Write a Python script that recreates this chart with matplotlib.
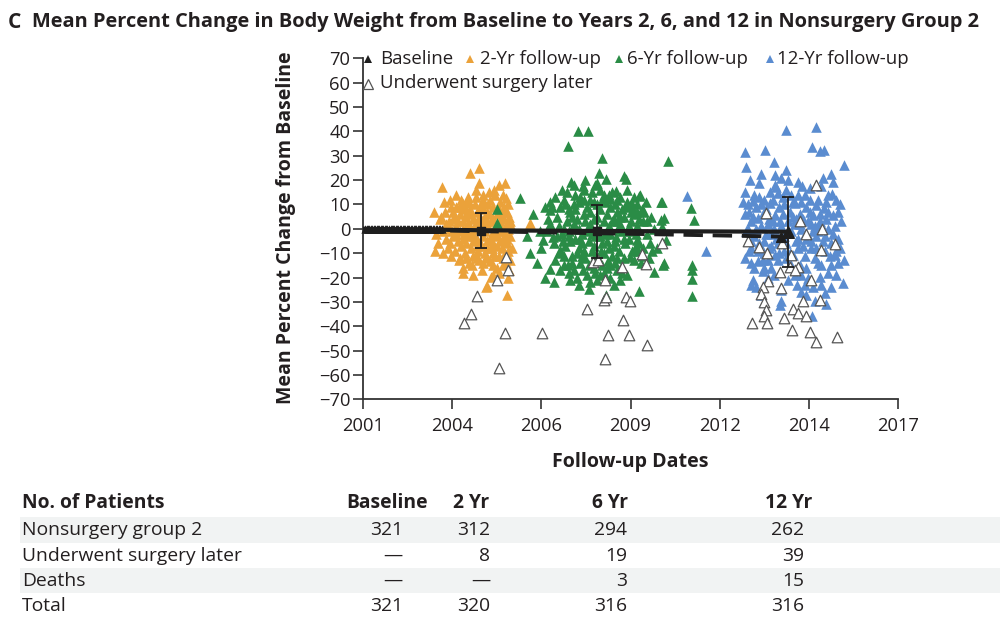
import matplotlib
matplotlib.use('Agg')
import matplotlib.pyplot as plt
import numpy as np
from matplotlib.patches import Rectangle
from matplotlib.lines import Line2D

plt.rcParams['font.family'] = ['Open Sans', 'DejaVu Sans']

# ---------------- DATA ----------------
title = "Mean Percent Change in Body Weight from Baseline to Years 2, 6, and 12 in Nonsurgery Group 2"
panel = "C"
y_label = "Mean Percent Change from Baseline"
x_label = "Follow-up Dates"
x_tick_labels = ['2001', '2004', '2006', '2009', '2012', '2014', '2017']
y_ticks = list(range(-70, 71, 10))

baseline_dates = [2001.08, 2001.12, 2001.17, 2001.2, 2001.25, 2001.29, 2001.33, 2001.37, 2001.42, 2001.46,
                  2001.49, 2001.55, 2001.58, 2001.62, 2001.66, 2001.7, 2001.74, 2001.79, 2001.84, 2001.87,
                  2001.9, 2001.94, 2001.98, 2002.02, 2002.06, 2002.11, 2002.15, 2002.19, 2002.23, 2002.27,
                  2002.31, 2002.35, 2002.39, 2002.43, 2002.47, 2002.52, 2002.56, 2002.6, 2002.64, 2002.68,
                  2002.72, 2002.76, 2002.81, 2002.85, 2002.89, 2002.93, 2002.97, 2003.01, 2003.05, 2003.1,
                  2003.14, 2003.18, 2003.22, 2003.27, 2003.31, 2003.36]
baseline_vals = [0.0] * len(baseline_dates)

yr2_pts = [(2004.47, 25), (2004.22, 23), (2003.36, 17), (2004.48, 19), (2005.08, 18), (2005.25, 19),
           (2004.38, 16), (2003.44, 11), (2003.14, 7), (2003.93, 12), (2004.08, 10.5), (2004.8, 12),
           (2005.28, 12.5), (2003.69, 7), (2004.2, 8), (2003.6, 12), (2003.8, 9), (2004.6, 14), (2004.9, 9),
           (2005.1, 11), (2005.3, 7), (2005.4, 3), (2003.3, 4), (2003.5, 2), (2003.2, -2),
           (2003.7, 4), (2003.9, 6), (2004.0, 3), (2004.1, 5), (2004.3, 4), (2004.4, 7), (2004.5, 5),
           (2004.6, 8), (2004.7, 3), (2004.8, 6), (2004.9, 4), (2005.0, 6), (2005.1, 3), (2005.2, 5), (2005.3, 2),
           (2003.6, 0), (2003.8, 1), (2003.9, -1), (2004.0, 0), (2004.15, 2), (2004.25, -1), (2004.35, 1),
           (2004.45, 0), (2004.55, 2), (2004.65, -1), (2004.75, 1), (2004.85, -2), (2004.95, 1), (2005.05, -1),
           (2005.15, 0), (2005.25, -2), (2005.35, 0),
           (2003.5, -4), (2003.7, -3), (2003.85, -5), (2004.0, -4), (2004.1, -6), (2004.2, -3), (2004.3, -5),
           (2004.4, -4), (2004.5, -6), (2004.6, -3), (2004.7, -5), (2004.8, -4), (2004.9, -6), (2005.0, -3),
           (2005.1, -5), (2005.2, -4), (2005.3, -6), (2005.4, -3),
           (2003.55, -8), (2003.75, -9), (2003.95, -7), (2004.05, -10), (2004.25, -8), (2004.45, -9),
           (2004.55, -7), (2004.65, -10), (2004.85, -8), (2004.95, -11), (2005.15, -8), (2005.25, -10), (2005.35, -9),
           (2003.4, -10), (2004.4, -12), (2004.8, -13.4), (2004.0, -16), (2004.0, -18), (2004.82, -19.6),
           (2004.7, -23.4), (2005.08, -18.2), (2004.68, -24), (2005.3, -27), (2005.2, -15), (2005.4, -13),
           (2004.6, -14), (2003.9, -12), (2004.3, -11), (2005.0, -16), (2005.35, -20), (2004.55, -17),
           (2003.65, 9), (2004.05, 8), (2004.35, 10), (2004.75, 10), (2005.05, 9), (2005.35, 10), (2004.15, 13),
           (2004.55, 11), (2004.95, 14), (2003.45, 7), (2004.25, 6), (2004.65, 5), (2005.15, 7),
           (2003.25, -6), (2003.4, -1), (2003.35, 5), (2003.15, -9), (2005.99, 1.6), (2006.0, 2.3),
           (2003.8, -2), (2004.12, -2), (2004.42, 3), (2004.72, -8), (2005.02, 2), (2005.22, 9), (2003.62, -6),
           (2004.18, -14), (2004.88, -15), (2005.18, -12), (2003.78, 14), (2004.92, 16),
           (2003.75, 5), (2003.85, 3), (2003.95, 9), (2004.02, -2), (2004.12, 7), (2004.22, 1), (2004.32, -3),
           (2004.42, -7), (2004.52, 9), (2004.62, 1), (2004.72, 7), (2004.82, 3), (2004.92, -1), (2005.02, -7),
           (2005.12, 4), (2005.22, -1), (2005.32, -4), (2005.42, 1), (2003.65, -11), (2003.88, -13),
           (2004.08, -12), (2004.28, -15), (2004.48, -13), (2004.68, -12), (2004.88, -10), (2005.08, -11),
           (2005.28, -14), (2005.38, -17), (2003.58, 3), (2003.68, -1), (2003.98, 11), (2004.18, 11),
           (2004.38, 13), (2004.58, 12), (2004.78, 15), (2005.18, 14), (2005.38, 5), (2004.9, -19),
           (2004.3, -19), (2005.45, -8)]

yr6_pts = [(2007.44, 40), (2007.73, 40), (2007.12, 34), (2008.15, 29), (2008.05, 23), (2008.28, 20.4),
           (2008.81, 21.5), (2008.88, 20.4), (2010.12, 28), (2007.22, 19.4), (2007.32, 18), (2007.57, 17.7),
           (2008.58, 15.7), (2005.7, 12.6), (2006.44, 8.9), (2006.59, 7.8), (2009.26, 13.5), (2009.93, 11.2),
           (2008.2, 14), (2008.38, 12.3), (2008.61, 11.9), (2010.82, 8.7), (2010.89, 3.7), (2010.0, 4.4),
           (2009.08, 7.8), (2009.18, 7.1), (2008.98, 9.2), (2009.38, 3), (2009.5, 3), (2009.9, 3.7),
           (2009.93, 0.9), (2009.28, 14), (2009.58, -5.9), (2009.63, -9.3), (2010.05, -4.8), (2009.99, -14.1),
           (2010.83, -16.8), (2010.83, -14.8), (2010.84, -27.5), (2010.83, -20.5), (2009.26, -25.7),
           (2008.68, -20.9), (2008.28, -27.1), (2007.76, -24.8), (2007.39, -20.2), (2006.59, -16.4),
           (2006.32, -7.9), (2007.14, -14.8), (2007.59, -16.8), (2008.13, -9.3), (2008.73, -15.5),
           (2008.33, -13.4), (2008.98, -11.4), (2009.38, -7.9), (2009.18, -4.5), (2008.58, -3.2),
           (2006.89, -8.6), (2006.69, -3.2), (2006.39, -4.5), (2006.99, -5.2), (2009.7, -17.8), (2009.97, -15),
           (2005.0, 8), (2005.02, 2.4), (2009.9, 11),
           (2006.6, 2), (2006.8, 5), (2006.9, 9), (2007.0, 12), (2007.1, 3), (2007.2, 7), (2007.3, 10),
           (2007.4, 4), (2007.5, 13), (2007.6, 6), (2007.7, 9), (2007.8, 2), (2007.9, 11), (2008.0, 5),
           (2008.1, 8), (2008.2, 3), (2008.3, 6), (2008.4, 9), (2008.5, 4), (2008.6, 7), (2008.7, 2),
           (2008.8, 5), (2008.9, 11), (2009.0, 3), (2009.1, 6), (2009.2, 1),
           (2006.5, -1), (2006.7, -6), (2006.85, -10), (2006.95, -2), (2007.05, -7), (2007.15, -1),
           (2007.25, -11), (2007.35, -4), (2007.45, -8), (2007.55, -2), (2007.65, -12), (2007.75, -5),
           (2007.85, -9), (2007.95, -3), (2008.05, -13), (2008.15, -6), (2008.25, -2), (2008.35, -8),
           (2008.45, -11), (2008.55, -5), (2008.65, -9), (2008.75, -1), (2008.85, -6), (2008.95, -4),
           (2009.05, -9), (2009.15, -2), (2009.25, -6), (2009.35, -11),
           (2006.75, 13), (2006.95, 16), (2007.1, 15), (2007.35, 14), (2007.6, 16), (2007.85, 15),
           (2007.95, 18), (2008.1, 16), (2008.45, 15), (2008.7, 13), (2008.9, 16), (2009.1, 13), (2009.2, 10),
           (2007.0, -15), (2007.3, -17), (2007.5, -14), (2007.7, -19), (2007.9, -16), (2008.0, -21),
           (2008.2, -18), (2008.4, -15), (2008.6, -17), (2008.9, -19), (2007.2, -21), (2007.8, -22),
           (2008.5, -23), (2006.2, -14), (2006.3, -1), (2006.1, 6), (2005.9, -3), (2006.0, -10),
           (2006.45, -20), (2006.7, -22),
           (2009.4, 7), (2009.6, 5), (2009.5, -2), (2009.7, 0), (2009.8, -8), (2009.45, 11), (2009.3, -14),
           (2009.55, -12),
           (2007.45, 0), (2007.75, 1), (2008.05, 0), (2008.35, 1), (2008.65, 0), (2007.15, -3), (2007.55, -6),
           (2007.9, -7), (2008.2, -10), (2008.5, -7), (2008.8, -12), (2007.4, -10), (2007.65, 3), (2007.25, 5),
           (2008.75, 8), (2008.25, 11), (2007.8, 7), (2008.45, 3), (2007.0, 0), (2006.8, -3), (2009.0, -1),
           (2009.1, -13), (2008.15, -15), (2007.6, -9), (2007.35, 8), (2007.95, -11),
           (2006.65, 9), (2006.85, 1), (2007.05, 10), (2007.2, -5), (2007.3, 2), (2007.45, 11), (2007.5, -4),
           (2007.6, 12), (2007.7, -1), (2007.8, 12), (2007.9, 4), (2008.0, 10), (2008.1, -3), (2008.15, 12),
           (2008.3, -5), (2008.35, 14), (2008.4, -2), (2008.55, 10), (2008.6, -12), (2008.7, 5), (2008.8, -4),
           (2008.85, 9), (2008.95, 1), (2009.05, 10), (2009.15, -7), (2009.25, 4), (2009.35, 8), (2007.0, -11),
           (2007.25, -14), (2007.55, -11), (2007.75, -15), (2007.95, -18), (2008.1, -19), (2008.3, -16),
           (2008.55, -14), (2008.75, -18), (2007.15, -18), (2007.45, -23), (2008.4, -20), (2006.55, 4),
           (2006.75, -13), (2006.9, -17), (2006.6, 11), (2007.65, 20), (2008.0, 19), (2007.15, 8),
           (2007.85, -2), (2008.6, 3), (2009.2, -9), (2009.0, 7)]

yr12_pts = [(2013.64, 40.6), (2014.55, 41.7), (2012.43, 31.5), (2013.03, 32.4), (2014.42, 33.5), (2014.65, 32),
            (2014.78, 32.4), (2013.28, 27.4), (2015.37, 26), (2012.46, 25.2), (2013.66, 24.2), (2012.91, 22.6),
            (2013.33, 22.2), (2013.51, 20.8), (2014.98, 22.5), (2012.58, 20.1), (2012.83, 19), (2015.05, 19.4),
            (2013.99, 19.2), (2014.12, 17.4), (2014.75, 20.8), (2014.7, 17.4), (2012.43, 15.3), (2013.31, 18.1),
            (2013.71, 20.1), (2013.16, 15.3), (2013.41, 14.6), (2014.35, 16.7), (2014.9, 14), (2015.02, 14.2),
            (2012.36, 11), (2012.66, 11.5), (2012.91, 10.1), (2013.16, 10.5), (2015.25, 10.1), (2014.55, 9.9),
            (2014.78, 8.5), (2014.0, 14), (2013.9, 10.5), (2014.1, 11.2), (2012.41, 6), (2014.45, 5.7),
            (2015.05, 5.7), (2015.3, 3), (2015.2, 7.1), (2012.61, 3), (2012.81, 4.4), (2013.31, 5.7), (2013.46, 3),
            (2012.61, -7.9), (2012.41, -12), (2012.81, -13.4), (2013.11, -12.7), (2013.31, -10.7),
            (2012.66, -20.9), (2012.59, -23), (2012.76, -23.7), (2012.96, -17.5), (2013.21, -16.1),
            (2013.51, -29.8), (2013.46, -31.2), (2013.96, -23), (2014.1, -18.9), (2014.25, -16.1),
            (2014.65, -19.6), (2014.7, -23), (2014.98, -23.7), (2015.35, -22.3), (2015.38, -12.7),
            (2015.1, -10.7), (2015.25, -7.9), (2014.42, -36), (2014.5, -29.8), (2014.8, -26.4), (2014.25, -27.1),
            (2014.06, -14.8), (2014.5, -12), (2013.85, -10.7), (2011.25, -9.3), (2010.7, 13.5),
            (2012.5, 0), (2012.7, -3), (2012.9, 1), (2013.0, -5), (2013.1, 2), (2013.2, -2), (2013.3, 0),
            (2013.4, -6), (2013.5, 1), (2013.6, -3), (2013.7, 3), (2013.8, -1), (2013.9, 2), (2014.0, -4),
            (2014.1, 0), (2014.2, -2), (2014.3, 3), (2014.4, -5), (2014.5, 1), (2014.6, -1), (2014.7, 2),
            (2014.8, -3), (2014.9, 0), (2015.0, -6), (2015.1, 1),
            (2012.55, 7), (2012.75, 9), (2012.95, 6), (2013.05, 8), (2013.25, 12), (2013.45, 9), (2013.55, 13),
            (2013.75, 7), (2013.85, 11), (2014.05, 6), (2014.25, 9), (2014.35, 12), (2014.65, 6), (2014.85, 11),
            (2015.15, 12), (2013.65, 16), (2013.95, 4), (2014.15, 4), (2013.15, 4), (2012.85, 13),
            (2012.6, -5), (2012.8, -9), (2013.0, -10), (2013.2, -7), (2013.4, -13), (2013.6, -9), (2013.8, -15),
            (2014.0, -8), (2014.2, -11), (2014.4, -8), (2014.6, -14), (2014.8, -9), (2015.0, -15), (2015.2, -4),
            (2012.7, -16), (2013.1, -20), (2013.3, -19), (2013.7, -21), (2014.3, -20), (2014.9, -18),
            (2013.5, -25), (2014.1, -26), (2012.9, -27), (2014.45, -24), (2013.65, -12), (2014.55, -3),
            (2012.45, -1), (2015.15, -19), (2014.85, -31),
            (2012.55, -9), (2012.65, 5), (2012.75, 0), (2012.85, -6), (2012.95, -13), (2013.05, -2),
            (2013.15, -8), (2013.25, 3), (2013.35, -4), (2013.45, -10), (2013.55, 6), (2013.65, -6),
            (2013.75, -10), (2013.85, 5), (2013.95, -5), (2014.05, 2), (2014.15, -7), (2014.25, -4),
            (2014.35, 7), (2014.45, -1), (2014.55, -8), (2014.65, 3), (2014.75, -5), (2014.85, 4),
            (2014.95, -11), (2015.05, -2), (2015.15, -9), (2012.5, 10), (2012.7, 14), (2013.0, 12),
            (2013.35, 17), (2013.6, 10), (2013.8, 14), (2014.2, 14), (2014.4, 2), (2014.6, 12), (2014.9, 7),
            (2012.6, -14), (2013.0, -16), (2013.9, -19), (2014.2, -23), (2014.7, -15), (2015.2, -14)]

surgery_pts = [(2005.28, -11.4), (2005.33, -17.1), (2005.02, -20.9), (2004.42, -27.4), (2004.23, -35),
               (2004.04, -38.5), (2005.24, -42.8), (2005.08, -57.1),
               (2006.37, -42.6), (2007.7, -33), (2008.24, -53.4), (2008.34, -43.5), (2008.21, -29.4),
               (2008.28, -27.8), (2008.24, -21.1), (2007.88, -13.5), (2008.02, -12.7), (2008.75, -15.7),
               (2008.86, -27.8), (2008.98, -29.8), (2008.78, -37.4), (2008.96, -43.5), (2009.35, -10.3),
               (2009.45, -14.5), (2009.49, -47.6), (2009.94, -5.9),
               (2013.06, 6.4), (2014.55, 17.8), (2014.06, 3.3), (2014.71, -0.1), (2014.23, -2), (2012.5, -5),
               (2012.84, -7.3), (2013.54, -5.9), (2015.1, -6.2), (2014.7, -8.9), (2013.08, -10), (2013.79, -10.7),
               (2013.76, -15.5), (2014.0, -15.5), (2013.9, -16.8), (2013.46, -17.9), (2013.11, -21.6),
               (2012.96, -23.7), (2013.5, -24.3), (2014.4, -20.9), (2012.89, -26.7), (2012.99, -30.2),
               (2014.15, -29.8), (2014.65, -29.1), (2013.04, -33.5), (2013.84, -33), (2014.0, -34.4),
               (2012.98, -36), (2013.08, -38.5), (2012.63, -38.7), (2013.58, -36.7), (2014.23, -36),
               (2013.83, -41.5), (2014.35, -42.4), (2014.53, -46.5), (2015.17, -44.5)]

mean_solid_x = [2001.0, 2004.53, 2008.0, 2013.7]
mean_solid_y = [0.0, -0.6, -0.9, -1.2]
mean_dashed_x = [2001.0, 2004.53, 2008.0, 2013.5]
mean_dashed_y = [0.0, -1.0, -1.8, -3.2]
err_x = [2004.53, 2008.0, 2013.7]
err_mean = [-0.8, -1.1, -1.3]
err_sd = [7.2, 11.0, 14.3]

table_header = ['No. of Patients', 'Baseline', '2 Yr', '6 Yr', '12 Yr']
table_rows = ['Nonsurgery group 2', 'Underwent surgery later', 'Deaths', 'Total']
n_baseline = ['321', '—', '—', '321']
n_2yr = ['312', '8', '—', '320']
n_6yr = ['294', '19', '3', '316']
n_12yr = ['262', '39', '15', '316']

legend_labels = ['Baseline', '2-Yr follow-up', '6-Yr follow-up', '12-Yr follow-up', 'Underwent surgery later']

# ---------------- STYLE ----------------
C_ORANGE = '#EBA23A'
C_GREEN = '#2A8C46'
C_BLUE = '#5A8CD0'
C_BLACK = '#1e1e1e'
C_TEXT = '#231f20'
C_EDGE = '#555555'

W, H = 1000, 642
fig = plt.figure(figsize=(10, 6.42), dpi=100)
fig.patch.set_facecolor('white')
def fx(px): return px / W
def fy(py): return 1 - py / H

ax = fig.add_axes([fx(362.7), fy(399.3), (898.3 - 362.7) / W, (399.3 - 58.3) / H])
ax.set_xlim(2001, 2017)
ax.set_ylim(-70, 70)
for s in ['top', 'right']:
    ax.spines[s].set_visible(False)
for s in ['left', 'bottom']:
    ax.spines[s].set_linewidth(1.3)
    ax.spines[s].set_color('#333333')
ax.set_xticks(np.linspace(2001, 2017, 7))
ax.set_xticklabels(x_tick_labels)
ax.set_yticks(y_ticks)
ax.tick_params(axis='both', direction='out', length=7, width=1.2, color='#333333',
               labelsize=13.2, labelcolor=C_TEXT, pad=2)
ax.tick_params(axis='x', pad=6)

ms = 58
def xy(pts):
    return [p[0] for p in pts], [p[1] for p in pts]

ax.scatter(baseline_dates, baseline_vals, marker='^', s=36, color=C_BLACK, linewidths=0, zorder=3, clip_on=False)
x, y = xy(yr2_pts)
ax.scatter(x, y, marker='^', s=ms, color=C_ORANGE, linewidths=0, zorder=2)
x, y = xy(yr6_pts)
ax.scatter(x, y, marker='^', s=ms, color=C_GREEN, linewidths=0, zorder=2)
x, y = xy(yr12_pts)
ax.scatter(x, y, marker='^', s=ms, color=C_BLUE, linewidths=0, zorder=2)
x, y = xy(surgery_pts)
ax.scatter(x, y, marker='^', s=58, facecolor='white', edgecolor=C_EDGE, linewidths=0.9, zorder=4)

ax.plot(mean_solid_x, mean_solid_y, color=C_BLACK, lw=3.0, zorder=5, solid_capstyle='butt')
ax.plot(mean_dashed_x, mean_dashed_y, color=C_BLACK, lw=2.8, ls=(0, (5, 2.5)), zorder=5)
ax.errorbar(err_x, err_mean, yerr=err_sd, fmt='none', ecolor=C_BLACK, elinewidth=1.3, capsize=4,
            capthick=1.3, zorder=6)
ax.scatter(err_x[:2], err_mean[:2], marker='s', s=34, color=C_BLACK, zorder=7)
ax.scatter([mean_solid_x[-1]], [mean_solid_y[-1]], marker='^', s=70, color=C_BLACK, zorder=7)
ax.scatter([mean_dashed_x[-1]], [mean_dashed_y[-1]], marker='^', s=50, color=C_BLACK, zorder=7)

# ---- legend (manual) ----
leg_fs = 13.4
leg_items = [(368, 58.5, 380, C_BLACK, 'full'), (470, 58.5, 480, C_ORANGE, 'full'),
             (618.5, 58.5, 627, C_GREEN, 'full'), (770, 58.5, 777, C_BLUE, 'full'),
             (368, 83.5, 380, C_EDGE, 'none')]
for (mx, my, tx, col, fill), lab in zip(leg_items, legend_labels):
    if fill == 'full':
        fig.add_artist(Line2D([fx(mx)], [fy(my)], marker='^', markersize=5.5, color=col, lw=0,
                              markeredgewidth=0, transform=fig.transFigure))
    else:
        fig.add_artist(Line2D([fx(mx)], [fy(my)], marker='^', markersize=6.5, markerfacecolor='white',
                              markeredgecolor=col, markeredgewidth=0.9, lw=0, transform=fig.transFigure))
    fig.text(fx(tx), fy(my), lab, fontsize=leg_fs, color=C_TEXT, va='center', ha='left')

# ---- labels ----
renderer = fig.canvas.get_renderer()
ylab = fig.text(fx(286), fy(228), y_label, rotation=90, fontsize=13, weight='bold', color=C_TEXT,
                ha='center', va='center')
xlab = fig.text(fx(630.5), fy(462), x_label, fontsize=13, weight='bold', color=C_TEXT, ha='center', va='center')
fig.text(fx(8), fy(22), panel, fontsize=15, weight='bold', color=C_TEXT, ha='left', va='center')
tt = fig.text(fx(32), fy(22), title, fontsize=13, weight='bold', color=C_TEXT, ha='left', va='center')

def fit(t, target, vertical=False):
    bb = t.get_window_extent(renderer)
    cur = bb.height if vertical else bb.width
    t.set_fontsize(t.get_fontsize() * target / cur)

fit(tt, 940)
fit(ylab, 350, vertical=True)
fit(xlab, 155)

# ---- table ----
for (y0, y1) in [(517, 543), (568, 593)]:
    fig.add_artist(Rectangle((fx(20), fy(y1)), fx(1000) - fx(20), (y1 - y0) / H, transform=fig.transFigure,
                             facecolor='#f1f3f3', edgecolor='none', zorder=0))
tfs = 13.9
hy = 503
fig.text(fx(22), fy(hy), table_header[0], fontsize=tfs, weight='bold', color=C_TEXT, ha='left', va='center')
for lab, xr in zip(table_header[1:], [428, 489, 628, 812]):
    fig.text(fx(xr), fy(hy), lab, fontsize=tfs, weight='bold', color=C_TEXT, ha='right', va='center')
row_y = [530, 556, 581, 606]
for i, ry in enumerate(row_y):
    fig.text(fx(22), fy(ry), table_rows[i], fontsize=tfs, color=C_TEXT, ha='left', va='center')
    for col, xr in zip([n_baseline, n_2yr, n_6yr, n_12yr], [403, 490, 627, 804]):
        fig.text(fx(xr), fy(ry), col[i], fontsize=tfs, color=C_TEXT, ha='right', va='center')

fig.savefig('out.png', dpi=100, facecolor='white')
